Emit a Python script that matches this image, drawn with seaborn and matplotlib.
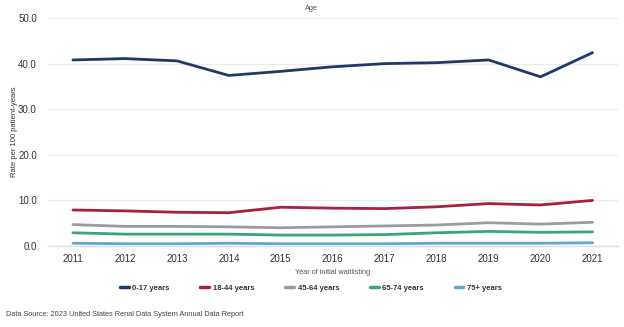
import numpy as np
import pandas as pd
import matplotlib
matplotlib.use("Agg")
import matplotlib.pyplot as plt
import seaborn as sns
from matplotlib.lines import Line2D

years = [2011, 2012, 2013, 2014, 2015, 2016, 2017, 2018, 2019, 2020, 2021]
age_0_17 = [40.8, 41.1, 40.6, 37.4, 38.3, 39.3, 40.0, 40.2, 40.8, 37.1, 42.4]
age_18_44 = [7.9, 7.7, 7.4, 7.3, 8.5, 8.3, 8.2, 8.6, 9.3, 9.0, 10.0]
age_45_64 = [4.7, 4.3, 4.3, 4.2, 4.0, 4.2, 4.4, 4.6, 5.1, 4.8, 5.2]
age_65_74 = [2.9, 2.6, 2.6, 2.6, 2.4, 2.4, 2.5, 2.9, 3.2, 3.0, 3.1]
age_75p = [0.6, 0.5, 0.5, 0.6, 0.5, 0.5, 0.5, 0.6, 0.6, 0.6, 0.7]
groups = ["0-17 years", "18-44 years", "45-64 years", "65-74 years", "75+ years"]
colors = ["#1f3a68", "#a8213f", "#999ca3", "#3aa57a", "#5fa9d0"]

series = [age_0_17, age_18_44, age_45_64, age_65_74, age_75p]
df = pd.DataFrame({
    "year": years * len(groups),
    "rate": sum(series, []),
    "group": sum([[g] * len(years) for g in groups], []),
})

sns.set_theme(style="white")
plt.rcParams["font.family"] = ["Liberation Sans", "DejaVu Sans"]

fig = plt.figure(figsize=(6.24, 3.27), dpi=100)
ax = fig.add_axes([48 / 624, 1 - 246 / 327, 570 / 624, 228 / 327])

sns.lineplot(data=df, x="year", y="rate", hue="group", hue_order=groups,
             palette=colors, linewidth=2.0, ax=ax, legend=False)

ax.set_xlim(2010.52, 2021.49)
ax.set_ylim(0, 50)
ax.set_yticks([0, 10, 20, 30, 40, 50])
ax.set_yticklabels([f"{v:.1f}" for v in [0, 10, 20, 30, 40, 50]])
ax.set_xticks(years)
ax.set_xticklabels([str(y) for y in years])
ax.yaxis.grid(True, color="#ebebeb", linewidth=1.0)
ax.set_axisbelow(True)
for s in ["top", "right", "left"]:
    ax.spines[s].set_visible(False)
ax.spines["bottom"].set_color("#e0e0e0")
ax.spines["bottom"].set_linewidth(1.0)
ax.tick_params(axis="both", length=0, labelsize=7, colors="#333333")
ax.tick_params(axis="x", pad=6)
ax.tick_params(axis="y", pad=8)

ax.set_xlabel("Year of initial waitlisting", fontsize=5.3, color="#555555", labelpad=3)
ax.set_ylabel("Rate per 100 patient-years", fontsize=5.5, color="#333333", labelpad=0)
fig.text(311.5 / 624, 0.985, "Age", fontsize=5.3, color="#555555", ha="center", va="top")

handles = [Line2D([0], [0], color=c, linewidth=2.5) for c in colors]
leg = fig.legend(handles, groups, loc="center", bbox_to_anchor=(311 / 624, 1 - 288 / 327),
                 ncol=5, frameon=False, handlelength=1.15, handletextpad=0.5,
                 columnspacing=4.0, prop={"size": 5.5, "weight": "bold"})
for t in leg.get_texts():
    t.set_color("#333333")

fig.text(6 / 624, 1 - 314 / 327, "Data Source: 2023 United States Renal Data System Annual Data Report",
         fontsize=5.3, color="#444444", ha="left", va="center")

fig.savefig("out.png", dpi=100)
